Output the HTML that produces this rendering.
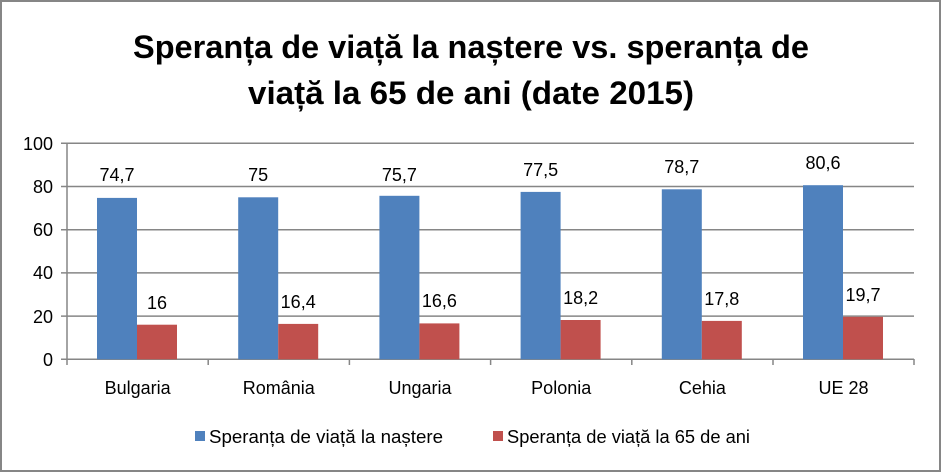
<!DOCTYPE html>
<html><head><meta charset="utf-8"><style>
html,body{margin:0;padding:0;background:#fff}
svg{display:block;font-family:"Liberation Sans",sans-serif}
</style></head><body>
<svg width="942" height="473" viewBox="0 0 942 473">
<rect x="1" y="1" width="939" height="470" fill="#fff" stroke="#868686" stroke-width="2"/>
<text x="471" y="58" text-anchor="middle" font-size="32" font-weight="bold" textLength="676" lengthAdjust="spacingAndGlyphs">Speranța de viață la naștere vs. speranța de</text>
<text x="471" y="104" text-anchor="middle" font-size="32" font-weight="bold" textLength="446" lengthAdjust="spacingAndGlyphs">viață la 65 de ani (date 2015)</text>
<g stroke="#868686" stroke-width="1.5">
<line x1="61" y1="143.3" x2="914" y2="143.3"/>
<line x1="61" y1="186.5" x2="914" y2="186.5"/>
<line x1="61" y1="229.7" x2="914" y2="229.7"/>
<line x1="61" y1="272.9" x2="914" y2="272.9"/>
<line x1="61" y1="316.1" x2="914" y2="316.1"/>
<line x1="61" y1="359.3" x2="914" y2="359.3"/>
<line x1="67" y1="143.3" x2="67" y2="359.3"/>
<line x1="67" y1="359" x2="67" y2="365"/><line x1="208.2" y1="359" x2="208.2" y2="365"/><line x1="349.4" y1="359" x2="349.4" y2="365"/><line x1="490.6" y1="359" x2="490.6" y2="365"/><line x1="631.8" y1="359" x2="631.8" y2="365"/><line x1="773" y1="359" x2="773" y2="365"/><line x1="914" y1="359" x2="914" y2="365"/>
</g>
<g font-size="18" text-anchor="end">
<text x="53" y="150">100</text><text x="53" y="193">80</text><text x="53" y="236">60</text><text x="53" y="279">40</text><text x="53" y="323">20</text><text x="53" y="366">0</text>
</g>
<g fill="#4f81bd">
<rect x="97" y="197.9" width="40" height="161.4"/>
<rect x="238.2" y="197.3" width="40" height="162"/>
<rect x="379.4" y="195.8" width="40" height="163.5"/>
<rect x="520.6" y="191.9" width="40" height="167.4"/>
<rect x="661.8" y="189.3" width="40" height="170"/>
<rect x="803" y="185.2" width="40" height="174.1"/>
</g>
<g fill="#c0504d">
<rect x="137" y="324.7" width="40" height="34.6"/>
<rect x="278.2" y="323.9" width="40" height="35.4"/>
<rect x="419.4" y="323.4" width="40" height="35.9"/>
<rect x="560.6" y="320" width="40" height="39.3"/>
<rect x="701.8" y="320.9" width="40" height="38.4"/>
<rect x="843" y="316.8" width="40" height="42.5"/>
</g>
<g font-size="18" text-anchor="middle">
<text x="117" y="181">74,7</text><text x="258.2" y="181">75</text><text x="399.4" y="181">75,7</text><text x="540.6" y="176">77,5</text><text x="681.8" y="173">78,7</text><text x="823" y="169">80,6</text>
<text x="157" y="309">16</text><text x="298.2" y="308">16,4</text><text x="439.4" y="307">16,6</text><text x="580.6" y="304">18,2</text><text x="721.8" y="305">17,8</text><text x="863" y="301">19,7</text>
<text x="137.6" y="394">Bulgaria</text><text x="278.8" y="394">România</text><text x="420" y="394">Ungaria</text><text x="561.2" y="394">Polonia</text><text x="702.4" y="394">Cehia</text><text x="843.5" y="394">UE 28</text>
</g>
<rect x="195" y="431" width="10" height="10" fill="#4f81bd"/>
<text x="209" y="443" font-size="18" textLength="234" lengthAdjust="spacingAndGlyphs">Speranța de viață la naștere</text>
<rect x="493" y="431" width="10" height="10" fill="#c0504d"/>
<text x="507" y="443" font-size="18" textLength="243" lengthAdjust="spacingAndGlyphs">Speranța de viață la 65 de ani</text>
</svg>
</body></html>
